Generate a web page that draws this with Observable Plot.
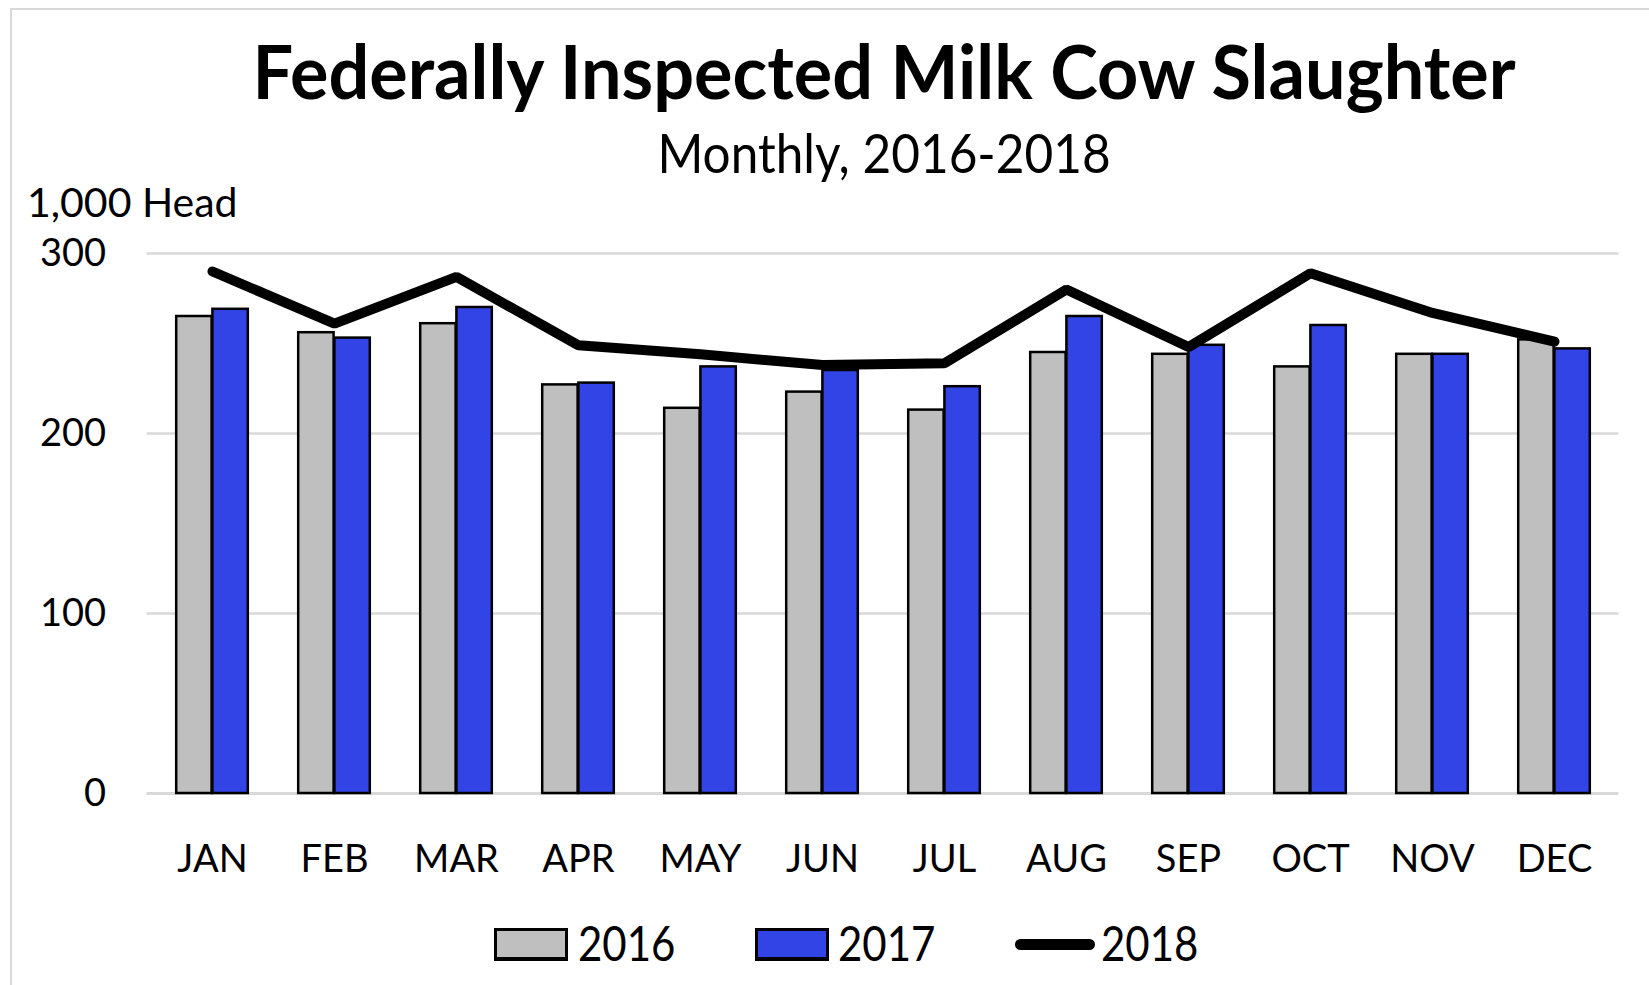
<!DOCTYPE html>
<html>
<head>
<meta charset="utf-8">
<script src="https://cdn.jsdelivr.net/npm/d3@7"></script>
<script src="https://cdn.jsdelivr.net/npm/@observablehq/plot@0.6"></script>
<style>
  html, body { margin: 0; padding: 0; background: #fff; }
  body { width: 1649px; height: 985px; position: relative; overflow: hidden; font-family: Lato, "Open Sans", sans-serif; color: #000; }
  #frame { position: absolute; left: 10px; top: 8px; width: 1700px; height: 1100px; border: 2px solid #d9d9d9; box-sizing: border-box; }
  .t { position: absolute; white-space: nowrap; line-height: 1; }
  #title { left: 150px; width: 1468px; text-align: center; top: 35px; font-size: 72px; font-weight: 700; transform: scaleY(1.04); transform-origin: 50% 89%; }
  #subtitle { left: 150px; width: 1468px; text-align: center; top: 130px; font-size: 49.5px; transform: scaleY(1.08); transform-origin: 50% 89%; }
  #chart { position: absolute; left: 0; top: 175px; }
  .sw { position: absolute; box-sizing: border-box; border: 3px solid #000; border-bottom-width: 4px; }
  .ln { position: absolute; background: #000; border-radius: 6px; }
  .lt { font-size: 42px; transform: scaleY(1.15); transform-origin: 0 89%; }
</style>
</head>
<body>
<div id="frame"></div>
<div class="t" id="title">Federally Inspected Milk Cow Slaughter</div>
<div class="t" id="subtitle">Monthly, 2016-2018</div>
<div id="chart"></div>
<div id="legend"></div>
<script>
const months = ["JAN","FEB","MAR","APR","MAY","JUN","JUL","AUG","SEP","OCT","NOV","DEC"];
const v2016 = [265, 256, 261, 227, 214, 223, 213, 245, 244, 237, 244, 252];
const v2017 = [269, 253, 270, 228, 237, 235, 226, 265, 249, 260, 244, 247];
const v2018 = [290, 261, 287, 249, 244, 238, 239, 280, 248, 289, 267, 251];
const yTicks = [0, 100, 200, 300];
const unitLabel = "1,000 Head";
const seriesNames = ["2016", "2017", "2018"];
const colors = {"2016": "#bfbfbf", "2017": "#3344e6", "2018": "#000000"};

const d16 = months.map((m, i) => ({month: m, value: v2016[i]}));
const d17 = months.map((m, i) => ({month: m, value: v2017[i]}));
const d18 = months.map((m, i) => ({month: m, value: v2018[i]}));

const plot = Plot.plot({
  width: 1649,
  height: 725,
  marginTop: 78,
  marginBottom: 107,
  marginLeft: 146.5,
  marginRight: 30.5,
  x: {domain: months, padding: 0, label: null},
  y: {domain: [0, 300], label: null},
  style: {fontFamily: "Lato, 'Open Sans', sans-serif", fontSize: "38px", color: "#000", background: "transparent"},
  marks: [
    Plot.gridY(yTicks.filter(d => d > 0), {stroke: "#d9d9d9", strokeOpacity: 1, strokeWidth: 2.5}),
    Plot.ruleY([0], {stroke: "#d9d9d9", strokeWidth: 3}),
    Plot.axisY(yTicks, {tickSize: 0, tickPadding: 41, label: null, fontSize: 38}),
    Plot.axisX({tickSize: 0, tickPadding: 52, label: null, fontSize: 38}),
    Plot.barY(d16, {x: "month", y: "value", fill: colors["2016"], stroke: "#000", strokeWidth: 2.5, insetLeft: 25.2, insetRight: 61.4}),
    Plot.barY(d17, {x: "month", y: "value", fill: colors["2017"], stroke: "#000", strokeWidth: 2.5, insetLeft: 61.4, insetRight: 25.2}),
    Plot.line(d18, {x: "month", y: "value", stroke: colors["2018"], strokeWidth: 10, strokeLinecap: "round", strokeLinejoin: "miter"}),
    Plot.text([unitLabel], {text: d => d, frameAnchor: "top-left", dx: -120, dy: -66, textAnchor: "start", fontSize: 41})
  ]
});
document.getElementById("chart").appendChild(plot);

// legend
const legend = document.getElementById("legend");
const items = [
  {name: seriesNames[0], kind: "box", fill: colors["2016"], x: 494, tx: 578},
  {name: seriesNames[1], kind: "box", fill: colors["2017"], x: 755, tx: 838},
  {name: seriesNames[2], kind: "line", fill: colors["2018"], x: 1015, tx: 1101}
];
for (const it of items) {
  const s = document.createElement("div");
  if (it.kind === "box") {
    s.className = "sw";
    Object.assign(s.style, {left: it.x + "px", top: "928px", width: "74px", height: "33px", background: it.fill});
  } else {
    s.className = "ln";
    Object.assign(s.style, {left: it.x + "px", top: "939px", width: "80px", height: "11px", background: it.fill});
  }
  legend.appendChild(s);
  const t = document.createElement("div");
  t.className = "t lt";
  t.textContent = it.name;
  Object.assign(t.style, {left: it.tx + "px", top: (961 - 0.887 * 42) + "px"});
  legend.appendChild(t);
}
</script>
</body>
</html>
